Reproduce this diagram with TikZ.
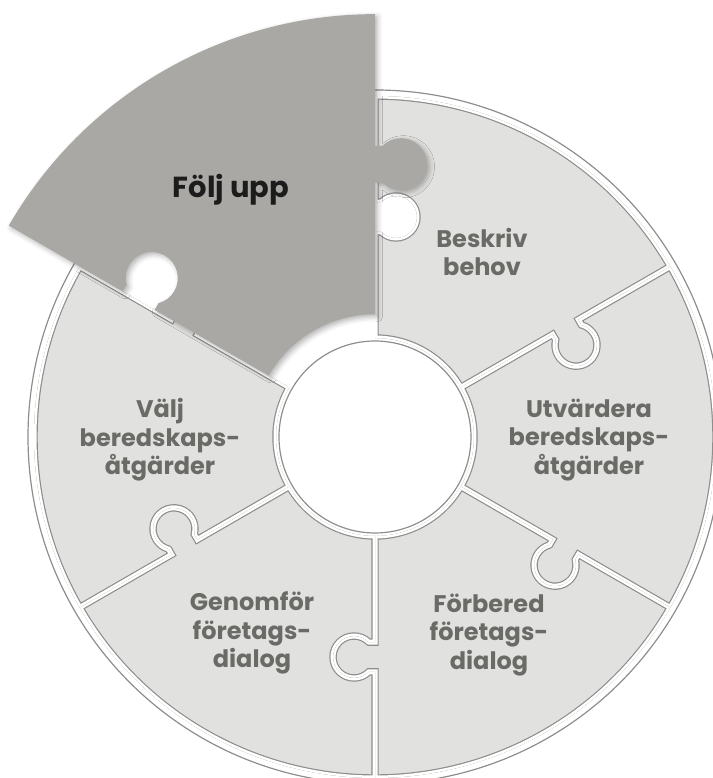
\documentclass[tikz,border=0pt]{standalone}
\usepackage{fontspec}
\newfontfamily\labelfont{Poppins}
\usetikzlibrary{shadows.blur}

\definecolor{piecefill}{HTML}{E1E1E0}
\definecolor{pieceline}{HTML}{8E8E8C}
\definecolor{activefill}{HTML}{A9A8A4}
\definecolor{labelgrey}{HTML}{6A6A66}
\definecolor{labeldark}{HTML}{1C1C1C}

% ring geometry (1 unit = 1pt)
\newcommand\Rin{99}
\newcommand\Rout{341}
\newcommand\Kt{220}   % knob position along an edge
\newcommand\Kr{21}    % knob radius
\newcommand\Kw{14.85} % half width of the knob neck
\newcommand\Kh{6.15}  % neck length
\newcommand\Ka{45}    % neck angle on the knob circle

% radial edge at angle #1, walked outwards, knob pointing clockwise
\newcommand\edgeout[1]{%
  -- ([rotate=#1]\Kt-\Kw,0) -- ([rotate=#1]\Kt-\Kw,-\Kh)
  arc[start angle=#1+90+\Ka, end angle=#1+450-\Ka, radius=\Kr]
  -- ([rotate=#1]\Kt+\Kw,0) -- (#1:\Rout)}
% the same edge walked inwards
\newcommand\edgein[1]{%
  -- ([rotate=#1]\Kt+\Kw,0) -- ([rotate=#1]\Kt+\Kw,-\Kh)
  arc[start angle=#1+450-\Ka, end angle=#1+90+\Ka, radius=\Kr]
  -- ([rotate=#1]\Kt-\Kw,0) -- (#1:\Rin)}
% one puzzle piece between angles #1 and #2
\newcommand\piecepath[2]{%
  (#1:\Rin) \edgeout{#1}
  arc[start angle=#1, end angle=#2, radius=\Rout]
  \edgein{#2}
  arc[start angle=#2, end angle=#1, radius=\Rin] -- cycle}
% filled piece with its outline set inside the border
\newcommand\drawpiece[2]{%
  \fill[piecefill] \piecepath{#1}{#2};
  \begin{scope}
    \clip \piecepath{#1}{#2};
    \draw[pieceline, line width=7.4] \piecepath{#1}{#2};
    \draw[white, line width=5] \piecepath{#1}{#2};
  \end{scope}}

\tikzset{
  ringline/.style={pieceline, line width=1.2},
  steplabel/.style={text=labelgrey, align=center,
    font=\labelfont\bfseries\fontsize{24}{28.5}\selectfont},
  activelabel/.style={text=labeldark, align=center,
    font=\labelfont\bfseries\fontsize{29}{32}\selectfont}
}

\begin{document}
\begin{tikzpicture}[x=1pt, y=1pt]
  \useasboundingbox (-375,-341) rectangle (337,437);

  % outer rim and centre hole
  \draw[ringline] (0,0) circle[radius=347];
  \draw[ringline] (0,0) circle[radius=96];

  % pieces in place
  \drawpiece{30}{90}
  \drawpiece{-30}{30}
  \drawpiece{-90}{-30}
  \drawpiece{210}{270}
  \drawpiece{150}{210}

  % lifted piece
  \begin{scope}[scale=1.24]
    \fill[activefill, blur shadow={shadow xshift=2.5pt, shadow yshift=-2.5pt,
      shadow blur radius=5pt, shadow opacity=30}] \piecepath{90}{150};
  \end{scope}

  % labels
  \node[activelabel] (follow)  at (-144, 247) {Följ upp};
  \node[steplabel]   (need)    at (107, 185)  {Beskriv\\behov};
  \node[steplabel]   (assess)  at (214, -3)   {Utvärdera\\beredskaps-\\åtgärder};
  \node[steplabel]   (prepare) at (114, -198) {Förbered\\företags-\\dialog};
  \node[steplabel]   (hold)    at (-123, -196){Genomför\\företags-\\dialog};
  \node[steplabel]   (choose)  at (-215, -3)  {Välj\\beredskaps-\\åtgärder};
\end{tikzpicture}
\end{document}
